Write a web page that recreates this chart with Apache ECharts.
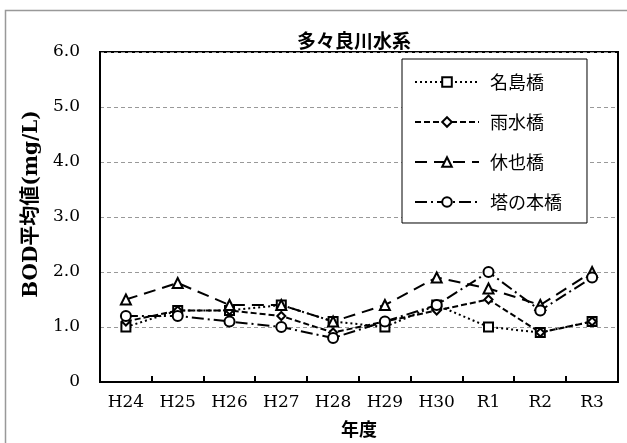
<!DOCTYPE html>
<html>
<head>
<meta charset="utf-8">
<script src="https://cdn.jsdelivr.net/npm/echarts@6/dist/echarts.min.js"></script>
<style>
  html, body { margin: 0; padding: 0; background: #fff; }
  #chart { width: 627px; height: 443px; }
</style>
</head>
<body>
<div id="chart"></div>
<script>
const years = ['H24', 'H25', 'H26', 'H27', 'H28', 'H29', 'H30', 'R1', 'R2', 'R3'];
const najima = [1.0, 1.3, 1.3, 1.4, 1.1, 1.0, 1.4, 1.0, 0.9, 1.1];
const usui = [1.1, 1.3, 1.3, 1.2, 0.9, 1.1, 1.3, 1.5, 0.9, 1.1];
const kyuya = [1.5, 1.8, 1.4, 1.4, 1.1, 1.4, 1.9, 1.7, 1.4, 2.0];
const tonomoto = [1.2, 1.2, 1.1, 1.0, 0.8, 1.1, 1.4, 2.0, 1.3, 1.9];

const serif = '"DejaVu Serif", "Liberation Serif", serif';
const jp = '"Noto Sans CJK JP", sans-serif';

const makeSeries = (name, data, symbol, size, dash) => ({
  name: name,
  type: 'line',
  data: data,
  symbol: symbol,
  symbolSize: size,
  showAllSymbol: true,
  itemStyle: { color: '#000', borderWidth: 2 },
  lineStyle: { color: '#000', width: 2, type: dash },
  z: 3
});

// inward tick marks between categories, placed with the axis scale
const tickSeries = {
  type: 'custom',
  silent: true,
  z: 4,
  data: years.map((y, i) => [i, 0]),
  encode: { x: 0, y: 1 },
  renderItem: (params, api) => {
    const i = api.value(0);
    if (i === 0) return null;
    const p = api.coord([i, 0]);
    const half = api.size([1, 0])[0] / 2;
    const x = Math.round(p[0] - half);
    return {
      type: 'line',
      shape: { x1: x, y1: p[1], x2: x, y2: p[1] - 6 },
      style: { stroke: '#000', lineWidth: 2 }
    };
  }
};

const chart = echarts.init(document.getElementById('chart'));

chart.setOption({
  animation: false,
  backgroundColor: '#fff',
  title: {
    text: '多々良川水系',
    left: 349,
    top: 26,
    textAlign: 'center',
    textStyle: { fontFamily: jp, fontSize: 19, fontWeight: 'bold', color: '#000' }
  },
  graphic: [
    {
      type: 'rect',
      shape: { x: 5.5, y: 10.5, width: 700, height: 500 },
      style: { fill: null, stroke: '#999', lineWidth: 1.5 },
      silent: true
    }
  ],
  legend: {
    orient: 'vertical',
    left: 402,
    top: 59,
    itemWidth: 64,
    itemHeight: 12,
    itemGap: 22,
    padding: [14, 25, 12, 12],
    borderColor: '#000',
    borderWidth: 1,
    backgroundColor: '#fff',
    textStyle: { fontFamily: jp, fontSize: 18, color: '#000', padding: [0, 0, 0, 6] },
    data: ['名島橋', '雨水橋', '休也橋', '塔の本橋']
  },
  grid: {
    left: 100,
    right: 9,
    top: 52,
    bottom: 54,
    show: true,
    borderColor: '#000',
    borderWidth: 2
  },
  xAxis: {
    type: 'category',
    data: years,
    boundaryGap: true,
    name: '年度',
    nameLocation: 'middle',
    nameGap: 38,
    nameTextStyle: { fontFamily: jp, fontSize: 18, fontWeight: 'bold', color: '#000' },
    axisLine: { show: true, onZero: false, lineStyle: { color: '#000', width: 2 } },
    axisTick: { show: false },
    axisLabel: { fontFamily: serif, fontSize: 17, color: '#000', margin: 12, interval: 0 },
    splitLine: { show: false }
  },
  yAxis: {
    type: 'value',
    min: 0,
    max: 6,
    interval: 1,
    name: 'BOD平均値(mg/L)',
    nameLocation: 'middle',
    nameGap: 56,
    nameRotate: 90,
    nameTextStyle: { fontFamily: serif + ', ' + jp, fontSize: 20, fontWeight: 'bold', color: '#000', padding: [0, 0, 0, 26] },
    axisLine: { show: true, lineStyle: { color: '#000', width: 2 } },
    axisTick: { show: false },
    axisLabel: {
      fontFamily: serif,
      fontSize: 17,
      color: '#000',
      margin: 20,
      formatter: v => (v === 0 ? '0' : v.toFixed(1))
    },
    splitLine: { show: true, lineStyle: { color: '#999', width: 1, type: [4, 3] } }
  },
  series: [
    makeSeries('名島橋', najima, 'emptyRect', 9, [2, 3]),
    makeSeries('雨水橋', usui, 'emptyDiamond', 8, [6, 3]),
    makeSeries('休也橋', kyuya, 'emptyTriangle', 10, [12, 7]),
    makeSeries('塔の本橋', tonomoto, 'emptyCircle', 10, [12, 4, 2, 4]),
    tickSeries
  ]
});
</script>
</body>
</html>
